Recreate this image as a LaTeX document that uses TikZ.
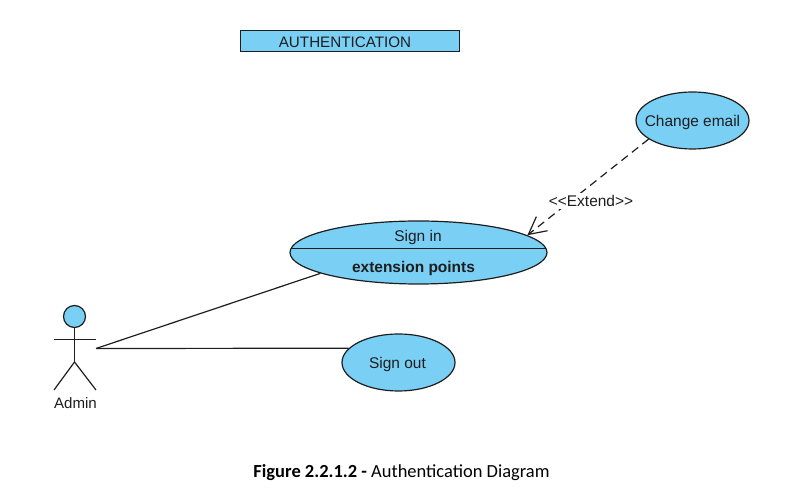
\documentclass[tikz,border=0pt]{standalone}
\usepackage{fontspec}
\setmainfont{Liberation Sans}
\newfontfamily\captionfont{Carlito}
\usetikzlibrary{arrows.meta,shapes.geometric}
\definecolor{usefill}{RGB}{122,207,245}
\definecolor{inkline}{RGB}{30,30,30}
\begin{document}
\begin{tikzpicture}[x=0.75pt,y=-0.75pt,usecase/.style={ellipse,draw=inkline,line width=0.9pt,fill=usefill,inner sep=0pt},assoc/.style={draw=inkline,line width=0.9pt},usetext/.style={font=\fontsize{11.6}{14}\selectfont,text=inkline,inner sep=0pt}]
\useasboundingbox (0,0) rectangle (794,498);
\coordinate (hip) at (74.5,362);
\coordinate (armL) at (54,339.5);
\coordinate (armR) at (96,339.5);
\coordinate (legL) at (54,390);
\coordinate (legR) at (96,390);
\coordinate (hand) at (96,348.5);
\coordinate (divL) at (291.3,248.5);
\coordinate (divR) at (545.7,248.5);
\node[draw=inkline,line width=0.8pt,fill=usefill,minimum width=164.25pt,minimum height=15.75pt,inner sep=0pt] (title) at (350,41) {};
\node[usetext,font=\fontsize{11.4}{14}\selectfont] (titletext) at (345,42.5) {AUTHENTICATION};
\node[usecase,minimum width=84.75pt,minimum height=42.75pt] (email) at (692.5,120.5) {};
\node[usetext] (emailtext) at (692.5,123) {Change email};
\node[usecase,minimum width=192.75pt,minimum height=47.25pt] (signin) at (418.5,252.5) {};
\draw[assoc] (divL) -- (divR);
\node[usetext] (signintext) at (418,238) {Sign in};
\node[usetext,font=\fontsize{11.6}{14}\selectfont\bfseries] (points) at (413.5,268.5) {extension points};
\node[usecase,minimum width=84.75pt,minimum height=42.75pt] (signout) at (398.5,362.5) {};
\node[usetext] (signouttext) at (397.5,365) {Sign out};
\node[circle,draw=inkline,line width=0.9pt,fill=usefill,minimum size=16.5pt,inner sep=0pt] (head) at (74.5,316.5) {};
\draw[assoc] (head) -- (hip);
\draw[assoc] (armL) -- (armR);
\draw[assoc] (legL) -- (hip);
\draw[assoc] (hip) -- (legR);
\node[usetext,font=\fontsize{11.3}{14}\selectfont] (admin) at (75.5,403) {Admin};
\draw[assoc] (hand) -- (signin.192);
\draw[assoc] (hand) -- (signout.164);
\draw[assoc,dashed,dash pattern=on 6pt off 4pt,-{Straight Barb[length=13pt,width=13.5pt]}] (email.203) -- (signin.9);
\node[usetext,fill=white,inner sep=1.5pt] (extend) at (591,201) {<{}<Extend>{}>};
\node[text=black,font=\captionfont\fontsize{13.85}{16}\selectfont,inner sep=0pt] (caption) at (401.5,473) {\textbf{Figure 2.2.1.2 -} Authentication Diagram};
\end{tikzpicture}
\end{document}
